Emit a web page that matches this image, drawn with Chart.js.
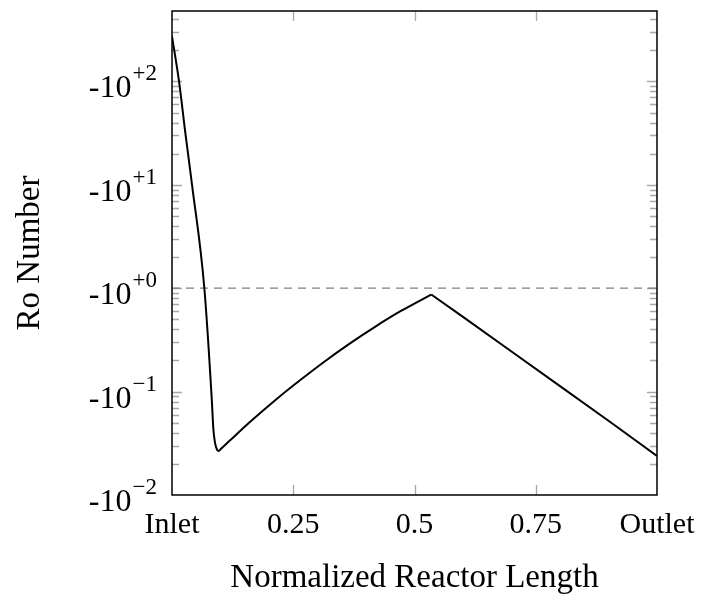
<!DOCTYPE html>
<html>
<head>
<meta charset="utf-8">
<script src="https://cdn.jsdelivr.net/npm/chart.js@4.4.1/dist/chart.umd.min.js"></script>
<style>
  html, body { margin: 0; padding: 0; background: #fff; }
  canvas { display: block; }
</style>
</head>
<body>
<canvas id="ro" width="702" height="600"></canvas>
<script>
// Normalized position along the reactor (0 = inlet, 1 = outlet)
const riseLength = [0, 0.0145, 0.0279, 0.0413, 0.0667, 0.0820, 0.0853, 0.0888, 0.0930, 0.0961,
                    0.1012, 0.1198, 0.1612, 0.2128, 0.2645, 0.3161, 0.3678, 0.4194, 0.4711, 0.5345];
// Ro number from the inlet through the minimum up to the peak
const riseRo = [-273, -100, -30.7, -10, -1.0, -0.0843, -0.0432, -0.0317, -0.0274, -0.0267,
                -0.0280, -0.0338, -0.0511, -0.0826, -0.1294, -0.198, -0.2947, -0.4257, -0.5989, -0.869];
// Ro number from the peak down to the outlet
const decayLength = [0.5345, 0.6, 0.7, 0.8, 0.9, 1.0];
const decayRo = [-0.869, -0.528, -0.244, -0.113, -0.0523, -0.0239];
// Reference level Ro = -1
const referenceRo = -1;

const xTickValues = [0, 0.25, 0.5, 0.75, 1];
const xTickLabels = ['Inlet', '0.25', '0.5', '0.75', 'Outlet'];
const yTickExponents = [2, 1, 0, -1, -2];
const yTickExponentLabels = ['+2', '+1', '+0', '\u22121', '\u22122'];

const FONT = "'Liberation Serif', 'DejaVu Serif', serif";

// The axis runs over |Ro| on a log scale; labels carry the sign.
const toPoints = (xs, ros) => xs.map((v, i) => ({ x: v, y: -ros[i] }));

const frameAndTicks = {
  id: 'frameAndTicks',
  beforeDatasetsDraw(chart) {
    const { ctx, chartArea: a, scales: { x, y } } = chart;
    ctx.save();
    ctx.strokeStyle = '#a8a8a8';
    ctx.lineWidth = 1.3;
    ctx.beginPath();
    for (const v of xTickValues.slice(1, -1)) {
      const px = Math.round(x.getPixelForValue(v)) + 0.5;
      ctx.moveTo(px, a.bottom); ctx.lineTo(px, a.bottom - 10);
      ctx.moveTo(px, a.top); ctx.lineTo(px, a.top + 10);
    }
    for (const e of yTickExponents) {
      for (let m = 1; m <= 9; m++) {
        const v = m * Math.pow(10, e);
        if (v <= y.min * 1.0001 || v >= y.max) continue;
        const len = m === 1 ? 10 : 7;
        const py = Math.round(y.getPixelForValue(v)) + 0.5;
        ctx.moveTo(a.left, py); ctx.lineTo(a.left + len, py);
        ctx.moveTo(a.right, py); ctx.lineTo(a.right - len, py);
      }
    }
    ctx.stroke();
    ctx.restore();
  },
  afterDatasetsDraw(chart) {
    const { ctx, chartArea: a, scales: { y } } = chart;
    ctx.save();
    ctx.strokeStyle = '#000';
    ctx.lineWidth = 1.5;
    ctx.strokeRect(a.left, a.top, a.right - a.left, a.bottom - a.top);

    // y tick labels: -10 with a raised exponent
    ctx.fillStyle = '#000';
    ctx.textBaseline = 'alphabetic';
    yTickExponents.forEach((e, i) => {
      const py = y.getPixelForValue(Math.pow(10, e));
      const right = a.left - 15;
      ctx.font = '23px ' + FONT;
      const sup = yTickExponentLabels[i];
      const supW = ctx.measureText(sup).width;
      ctx.textAlign = 'left';
      ctx.fillText(sup, right - supW, py - 1);
      ctx.font = '32px ' + FONT;
      ctx.textAlign = 'right';
      ctx.fillText('-10', right - supW - 1, py + 16);
    });
    ctx.restore();
  }
};

new Chart(document.getElementById('ro'), {
  type: 'line',
  data: {
    datasets: [
      {
        data: toPoints(riseLength, riseRo),
        borderColor: '#000',
        borderWidth: 2,
        pointRadius: 0,
        cubicInterpolationMode: 'monotone',
        fill: false
      },
      {
        data: toPoints(decayLength, decayRo),
        borderColor: '#000',
        borderWidth: 2,
        pointRadius: 0,
        tension: 0,
        fill: false
      },
      {
        data: [{ x: 0, y: -referenceRo }, { x: 1, y: -referenceRo }],
        borderColor: '#808080',
        borderWidth: 1.2,
        borderDash: [8, 6],
        pointRadius: 0,
        tension: 0,
        fill: false
      }
    ]
  },
  options: {
    responsive: false,
    animation: false,
    layout: { padding: { top: 11, right: 45, bottom: 0, left: 0 } },
    plugins: { legend: { display: false }, tooltip: { enabled: false } },
    scales: {
      x: {
        type: 'linear',
        min: 0,
        max: 1,
        afterBuildTicks(scale) { scale.ticks = xTickValues.map(v => ({ value: v })); },
        afterFit(scale) {
          scale.height = 105;
          // edge labels may overhang; the layout padding already leaves room
          scale.paddingLeft = 0;
          scale.paddingRight = 0;
        },
        ticks: {
          padding: 12,
          color: '#000',
          maxRotation: 0,
          font: { family: FONT, size: 30 },
          callback: (v) => xTickLabels[xTickValues.indexOf(v)]
        },
        grid: { display: false, drawTicks: false },
        border: { display: false },
        title: {
          display: true,
          text: 'Normalized Reactor Length',
          color: '#000',
          font: { family: FONT, size: 33 },
          padding: { top: 4, bottom: 2 }
        }
      },
      y: {
        type: 'logarithmic',
        min: 0.01,
        max: 480,
        afterBuildTicks(scale) { scale.ticks = yTickExponents.map(e => ({ value: Math.pow(10, e) })); },
        afterFit(scale) { scale.width = 172; },
        ticks: { display: false },
        grid: { display: false, drawTicks: false },
        border: { display: false },
        title: {
          display: true,
          text: 'Ro Number',
          color: '#000',
          font: { family: FONT, size: 33 },
          padding: { top: 11, bottom: 4 }
        }
      }
    }
  },
  plugins: [frameAndTicks]
});
</script>
</body>
</html>
